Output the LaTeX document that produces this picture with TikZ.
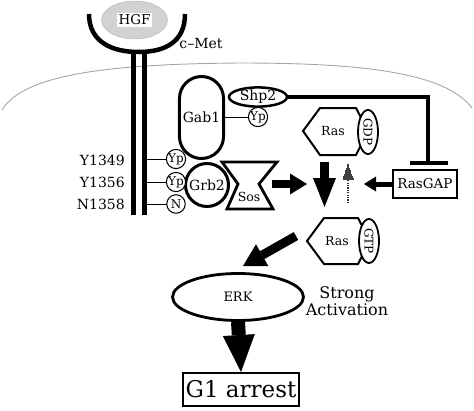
\documentclass[tikz,border=0pt]{standalone}
\usepackage{fontspec}
\setmainfont{DejaVu Serif}
\usetikzlibrary{shapes.geometric,arrows.meta,calc}
\newcommand{\fs}[1]{\fontsize{#1}{#1}\selectfont}
\begin{document}
\begin{tikzpicture}[x=1pt,y=-1pt,
  ypc/.style={circle,draw,line width=1pt,minimum size=18.5pt,inner sep=0pt,fill=white,font=\fs{12}},
  lbl/.style={font=\fs{14},anchor=east,inner sep=0pt},
  thin/.style={line width=1pt},
  hexa/.style={line width=2pt,fill=white,line join=miter},
  nucl/.style={ellipse,draw,line width=1.8pt,fill=white,rotate=-90,minimum width=44pt,minimum height=20pt,inner sep=0pt,font=\fs{12}},
  inhib/.style={line width=3.5pt}]
\useasboundingbox (0,0) rectangle (474,410);

% membrane
\draw[gray!70,line width=0.9pt] (2,110) .. controls (25,72) and (120,64) .. (240,63) .. controls (360,63) and (445,72) .. (472,108);

% HGF
\node[ellipse,draw=gray!60,fill=gray!35,minimum width=66pt,minimum height=38pt] (hgf) at (134.5,20) {};
\node[fill=white,inner sep=1.5pt,font=\fs{13.5}] (hgftxt) at (hgf) {HGF};

% c-Met receptor
\draw[line width=4.5pt] (89,14) .. controls (89,42) and (112,52) .. (138.5,52) .. controls (165,52) and (185,42) .. (185,14);
\draw[line width=5pt] (133,51) -- (133,215);
\draw[line width=5pt] (144,51) -- (144,215);
\node[font=\fs{14}] (cmet) at (201,43) {c–Met};

% Gab1, Shp2
\node[draw,line width=3pt,rounded corners=22pt,minimum width=44pt,minimum height=82pt,font=\fs{14}] (gab1) at (201.5,117.5) {Gab1};
\node[ellipse,draw,line width=2.5pt,minimum width=58pt,minimum height=19pt,inner sep=0pt,font=\fs{14}] (shp2) at (258,97) {Shp2};
\node[ypc] (ypg) at (258,117) {Yp};
\draw[thin] (gab1.east |- ypg) -- (ypg);

% Grb2
\node[circle,draw,line width=3pt,minimum size=43pt,inner sep=0pt,font=\fs{14}] (grb2) at (207,185) {Grb2};

% receptor phosphosites
\coordinate (s1) at (146,159);
\coordinate (s2) at (146,182);
\coordinate (s3) at (146,204);
\draw[thin] (s1) -- (176,159) node[ypc] (yp1) {Yp};
\draw[thin] (s2) -- (176,182) node[ypc] (yp2) {Yp};
\draw[thin] (s3) -- (176,204) node[ypc] (nn) {N};
\node[lbl] (l1) at (125,160) {Y1349};
\node[lbl] (l2) at (125,182) {Y1356};
\node[lbl] (l3) at (125,204) {N1358};

% Sos
\draw[line width=2.8pt,line join=miter] (222,162) -- (277,162) -- (259,184) -- (273,209) -- (227,209) -- (238,184) -- cycle;
\node[font=\fs{12.5}] (sos) at (249,197) {Sos};

% Ras-GDP
\draw[hexa] (303,131) -- (320,108) -- (356,108) -- (368,131) -- (356,155) -- (320,155) -- cycle;
\node[font=\fs{12.5}] (rasgdp) at (333,131) {Ras};
\node[nucl] (gdp) at (368,132) {GDP};

% Ras-GTP
\draw[hexa] (307,241) -- (324,218) -- (358,218) -- (370,241) -- (358,264) -- (324,264) -- cycle;
\node[font=\fs{12.5}] (rasgtp) at (337,241) {Ras};
\node[nucl] (gtp) at (369,241) {GTP};

% RasGAP and inhibition
\node[draw,line width=1.2pt,minimum width=64pt,minimum height=28pt,inner sep=1pt,font=\fs{13.5}] (rasgap) at (425,184) {RasGAP};
\coordinate (tc) at (428,163);
\coordinate (tl) at (410,163);
\coordinate (tr) at (448,163);
\draw[inhib,line join=miter] (shp2.east) -- (tc |- shp2.east) -- (tc);
\draw[inhib] (tl) -- (tr);

% block arrows
\coordinate (a1s) at (272,184);
\coordinate (a1e) at (307,184);
\draw[line width=8pt,-{Triangle[length=17pt,width=21pt,line width=0pt]}] (a1s) -- (a1e);
\coordinate (a2s) at (324.5,162);
\coordinate (a2e) at (324.5,207);
\draw[line width=9pt,-{Triangle[length=29pt,width=23pt,line width=0pt]}] (a2s) -- (a2e);
\coordinate (a3e) at (364,184);
\draw[line width=5pt,-{Triangle[length=12pt,width=15pt,line width=0pt]}] (rasgap.west) -- (a3e);
\coordinate (a4s) at (296,236);
\coordinate (a4e) at (243,266);
\draw[line width=9pt,-{Triangle[length=22pt,width=25pt,line width=0pt]}] (a4s) -- (a4e);

% striped reverse arrow
\coordinate (d1) at (348,203);
\coordinate (d2) at (348,180);
\coordinate (d3) at (348,163);
\draw[black!80,line width=2.4pt,dash pattern=on 1.3pt off 1.1pt] (d1) -- (d2);
\foreach \k in {0,...,7} {
  \pgfmathsetmacro{\yy}{179-2*\k}
  \pgfmathsetmacro{\hw}{5.5*(\yy-163)/16}
  \draw[black!75,line width=1.1pt] ($(348,\yy)+(-\hw,0)$) -- ($(348,\yy)+(\hw,0)$);
}

% ERK
\node[ellipse,draw,line width=2.8pt,minimum width=131pt,minimum height=47pt,font=\fs{13}] (erk) at (238,297) {ERK};
\node[align=center,font=\fontsize{16}{17}\selectfont] (sa) at (347,301) {Strong\\Activation};

% G1 arrest
\node[draw,line width=2pt,minimum width=116pt,minimum height=33pt,inner sep=1pt,font=\fs{23}] (g1) at (241,389.5) {G1 arrest};
\draw[line width=14pt,-{Triangle[length=37pt,width=32pt,line width=0pt]}] (erk.south) -- (g1.north);
\end{tikzpicture}
\end{document}
